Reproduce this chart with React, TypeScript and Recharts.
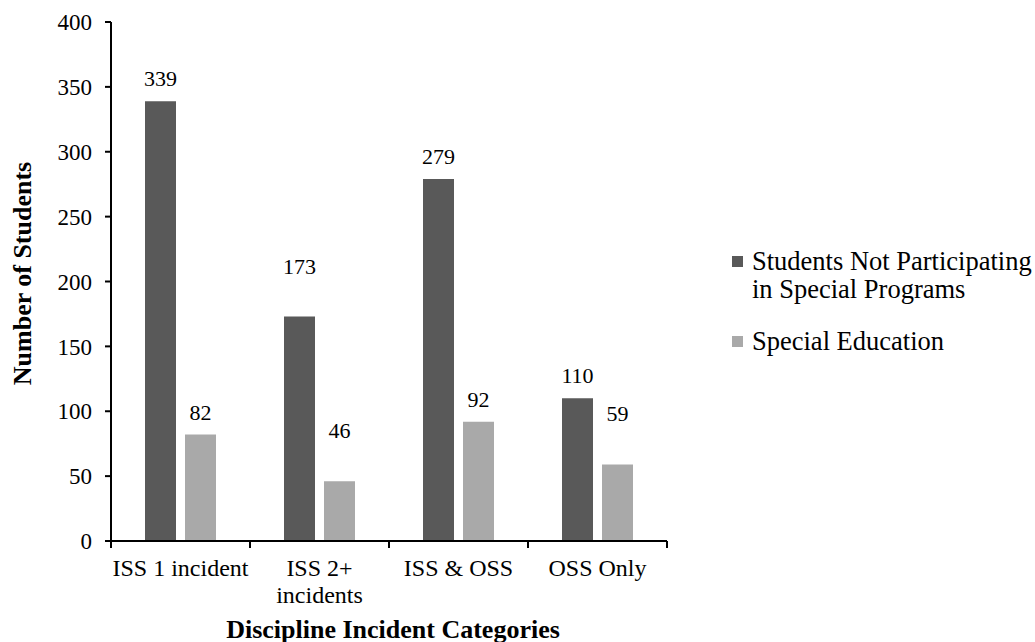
import React from 'react';
import { BarChart, Bar, XAxis, YAxis, Legend, LabelList } from 'recharts';

// Discipline incidents by category and student group
const categories = ['ISS 1 incident', 'ISS 2+\nincidents', 'ISS & OSS', 'OSS Only'];
const notParticipating = [339, 173, 279, 110];
const specialEducation = [82, 46, 92, 59];
const yTicks = [0, 50, 100, 150, 200, 250, 300, 350, 400];

const SERIES_A = 'Students Not Participating in Special Programs';
const SERIES_B = 'Special Education';
const seriesOrder = [SERIES_A, SERIES_B];

const chartData = categories.map((name, i) => ({
  name,
  [SERIES_A]: notParticipating[i],
  [SERIES_B]: specialEducation[i],
}));

const FONT = '"Liberation Serif", "Times New Roman", serif';
const DARK = '#595959';
const LIGHT = '#a9a9a9';
const LABEL_GAP = 15;
// a few value labels were dragged a bit higher above their bars
const raisedLabels: Record<string, number[]> = {
  [SERIES_A]: [1],
  [SERIES_B]: [1, 3],
};

const makeValueLabel = (series: string) => (props: any) => {
  const { x, y, width, value, index } = props;
  const extra = raisedLabels[series]?.includes(index) ? 28 : 0;
  return (
    <text x={x + width / 2} y={y - LABEL_GAP - extra} textAnchor="middle" fill="#000"
      fontFamily={FONT} fontSize={22}>
      {value}
    </text>
  );
};

// category label with boundary tick marks between categories
const CategoryTick = (props: any) => {
  const { x, y, payload, index, visibleTicksCount, width } = props;
  const count = visibleTicksCount || categories.length;
  const band = (width || 556) / count;
  const lines = String(payload.value).split('\n');
  const last = index === count - 1;
  return (
    <g>
      <line x1={x - band / 2} x2={x - band / 2} y1={y} y2={y + 7} stroke="#000" strokeWidth={2} />
      {last && <line x1={x + band / 2} x2={x + band / 2} y1={y} y2={y + 7} stroke="#000" strokeWidth={2} />}
      <text x={x} y={y + 27} textAnchor="middle" fontFamily={FONT} fontSize={24} fill="#000">
        {lines.map((l, i) => (
          <tspan key={i} x={x} dy={i === 0 ? '0.35em' : 27}>{l}</tspan>
        ))}
      </text>
    </g>
  );
};

const renderYTitle = (props: any) => {
  const { x, y, height } = props.viewBox;
  const cx = x + 22;
  const cy = y + height / 2 - 8;
  return (
    <text x={cx} y={cy} transform={`rotate(-90, ${cx}, ${cy})`} textAnchor="middle" dominantBaseline="central"
      fontFamily={FONT} fontSize={26} fontWeight="bold" fill="#000">
      Number of Students
    </text>
  );
};

const renderXTitle = (props: any) => {
  const { x, y, width } = props.viewBox;
  return (
    <text x={x + width / 2 + 4} y={y + 88} textAnchor="middle" dominantBaseline="central"
      fontFamily={FONT} fontSize={26} fontWeight="bold" fill="#000">
      Discipline Incident Categories
    </text>
  );
};

const renderLegend = (props: any) => {
  const items = [...(props.payload || [])].sort(
    (a: any, b: any) => seriesOrder.indexOf(a.value) - seriesOrder.indexOf(b.value)
  );
  return (
    <div style={{ fontFamily: FONT, fontSize: 26.5, color: '#000' }}>
      {items.map((entry: any, i: number) => (
        <div key={i} style={{ display: 'flex', alignItems: 'flex-start', marginBottom: 24 }}>
          <span style={{ width: 11, height: 11, background: entry.color, marginTop: 9, marginRight: 9, flex: 'none' }} />
          <span style={{ width: 283, lineHeight: '28px' }}>{entry.value}</span>
        </div>
      ))}
    </div>
  );
};

export default function App() {
  return (
    <div style={{ position: 'absolute', left: 0, top: 0, width: 1035, height: 642, background: '#fff' }}>
      <BarChart width={1035} height={642} data={chartData}
        margin={{ top: 22, right: 368, bottom: 0, left: 0 }}
        barSize={31} barGap={9}>
        <YAxis domain={[0, 400]} ticks={yTicks} width={111} interval={0}
          axisLine={{ stroke: '#000', strokeWidth: 2 }}
          tickLine={{ stroke: '#000', strokeWidth: 2 }} tickSize={6} tickMargin={13}
          tick={{ fill: '#000', fontFamily: FONT, fontSize: 23 }}
          label={renderYTitle} />
        <XAxis dataKey="name" height={101} interval={0}
          axisLine={{ stroke: '#000', strokeWidth: 2 }}
          tickLine={false} tickSize={0} tickMargin={0}
          tick={<CategoryTick />}
          label={renderXTitle} />
        <Legend layout="horizontal" verticalAlign="middle" align="center"
          wrapperStyle={{ position: 'absolute', left: 732, top: 247, width: 303 }}
          content={renderLegend} />
        <Bar dataKey={SERIES_A} fill={DARK} isAnimationActive={false}>
          <LabelList dataKey={SERIES_A} content={makeValueLabel(SERIES_A)} />
        </Bar>
        <Bar dataKey={SERIES_B} fill={LIGHT} isAnimationActive={false}>
          <LabelList dataKey={SERIES_B} content={makeValueLabel(SERIES_B)} />
        </Bar>
      </BarChart>
    </div>
  );
}
